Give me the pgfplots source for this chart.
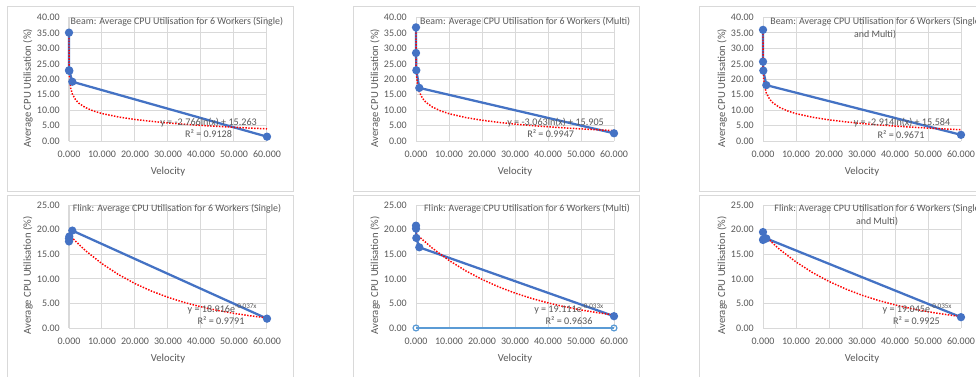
\documentclass[border=0pt]{standalone}
\usepackage{pgfplots}
\pgfplotsset{compat=1.18}
\usepackage{fontspec}
\setmainfont{Carlito}
\definecolor{txt}{HTML}{595959}
\definecolor{gridc}{HTML}{D9D9D9}
\definecolor{blueA}{HTML}{4472C4}
\definecolor{blueB}{HTML}{5B9BD5}
\pgfplotsset{
 excel/.style={scale only axis, width=148.5pt, xmin=0, xmax=60,
  xtick={0,10,20,30,40,50,60},
  xticklabels={0.000,10.000,20.000,30.000,40.000,50.000,60.000},
  grid=major, grid style={draw=gridc, line width=0.75pt},
  axis line style={draw=none}, tick style={draw=none},
  ticklabel style={font=\fontsize{7.5}{9}\selectfont, text=txt, inner sep=0pt},
  xticklabel style={anchor=center, yshift=-9.75pt},
  yticklabel style={anchor=east, xshift=-6.75pt},
  clip=false},
 beam/.style={excel, height=92.625pt, ymin=0, ymax=40, ytick={0,5,10,15,20,25,30,35,40},
  yticklabels={0.00,5.00,10.00,15.00,20.00,25.00,30.00,35.00,40.00}},
 flink/.style={excel, height=92.25pt, ymin=0, ymax=25, ytick={0,5,10,15,20,25},
  yticklabels={0.00,5.00,10.00,15.00,20.00,25.00}},
 data/.style={blueA, line width=1.7pt, mark=*, mark size=2.2pt, mark options={fill=blueA, draw=blueA, solid}},
 trend/.style={red, line width=1.1pt, dash pattern=on 1.1pt off 1.1pt, mark=none},
}
\newcommand{\axlabels}{%
 \node[font=\fontsize{8}{9.6}\selectfont, text=txt] at (axis description cs:0.5,-0.251) {Velocity};
 \node[rotate=90, font=\fontsize{8}{9.6}\selectfont, text=txt] at (axis description cs:-0.207,0.427) {Average CPU Utilisation (\%)};}
\tikzset{ttl/.style={font=\fontsize{7.45}{9.75}\selectfont, text=txt, align=center, inner sep=0pt},
 eq/.style={font=\fontsize{7.6}{9}\selectfont, text=txt, inner sep=0pt}}
\begin{document}
\begin{tikzpicture}
\fill[white] (0,0) rectangle (732pt,282pt);
\draw[gridc, line width=0.75pt] (5.25pt,138.375pt) rectangle (219.75pt,276.75pt);
\draw[gridc, line width=0.75pt] (264.75pt,138.375pt) rectangle (479.25pt,276.75pt);
\draw[gridc, line width=0.75pt] (524.25pt,138.375pt) rectangle (742.5pt,276.75pt);
\draw[gridc, line width=0.75pt] (5.25pt,-10pt) rectangle (219.75pt,135.75pt);
\draw[gridc, line width=0.75pt] (264.75pt,-10pt) rectangle (479.25pt,135.75pt);
\draw[gridc, line width=0.75pt] (524.25pt,-10pt) rectangle (742.5pt,135.75pt);

% Chart 1
\begin{axis}[beam, at={(51.75pt,176.25pt)}, anchor=south west]
\addplot[data] coordinates {(0.001,35.1) (0.01,22.9) (0.1,22.7) (1,19.2) (60,1.4)};
\addplot[trend] coordinates {(0.001,34.370) (0.002,32.453) (0.005,29.918) (0.01,28.001) (0.02,26.084) (0.05,23.549) (0.1,21.632) (0.2,19.715) (0.5,17.180) (1,15.263) (2,13.346) (3,12.224) (5,10.811) (7.5,9.690) (10,8.894) (15,7.772) (20,6.977) (25,6.359) (30,5.855) (35,5.429) (40,5.059) (45,4.734) (50,4.442) (55,4.179) (60,3.938)};
\axlabels
\node[ttl] at (axis description cs:0.545,0.964) {Beam: Average CPU Utilisation for 6 Workers (Single)};
\node[eq] at (axis description cs:0.705,0.146) {y = -2.766ln(x) + 15.263};
\node[eq] at (axis description cs:0.705,0.057) {R² = 0.9128};
\end{axis}

% Chart 2
\begin{axis}[beam, at={(312pt,176.25pt)}, anchor=south west]
\addplot[data] coordinates {(0.001,36.8) (0.01,28.5) (0.1,22.9) (1,17.2) (60,2.5)};
\addplot[trend] coordinates {(0.001,37.063) (0.002,34.940) (0.005,32.134) (0.01,30.011) (0.02,27.887) (0.05,25.081) (0.1,22.958) (0.2,20.835) (0.5,18.028) (1,15.905) (2,13.782) (3,12.540) (5,10.975) (7.5,9.733) (10,8.852) (15,7.610) (20,6.729) (25,6.046) (30,5.487) (35,5.015) (40,4.606) (45,4.245) (50,3.923) (55,3.631) (60,3.364)};
\axlabels
\node[ttl] at (axis description cs:0.551,0.964) {Beam: Average CPU Utilisation for 6 Workers (Multi)};
\node[eq] at (axis description cs:0.705,0.146) {y = -3.063ln(x) + 15.905};
\node[eq] at (axis description cs:0.68,0.057) {R² = 0.9947};
\end{axis}

% Chart 3
\begin{axis}[beam, at={(572.25pt,176.25pt)}, anchor=south west]
\addplot[data] coordinates {(0.001,36.0) (0.01,25.7) (0.1,22.8) (1,18.1) (60,2.0)};
\addplot[trend] coordinates {(0.001,35.713) (0.002,33.693) (0.005,31.023) (0.01,29.004) (0.02,26.984) (0.05,24.313) (0.1,22.294) (0.2,20.274) (0.5,17.604) (1,15.584) (2,13.564) (3,12.383) (5,10.894) (7.5,9.713) (10,8.874) (15,7.693) (20,6.855) (25,6.204) (30,5.673) (35,5.224) (40,4.835) (45,4.491) (50,4.184) (55,3.907) (60,3.653)};
\axlabels
\node[ttl] at (axis description cs:0.566,0.911) {Beam: Average CPU Utilisation for 6 Workers (Single\\and Multi)};
\node[eq] at (axis description cs:0.702,0.146) {y = -2.914ln(x) + 15.584};
\node[eq] at (axis description cs:0.697,0.049) {R² = 0.9671};
\end{axis}

% Chart 4
\begin{axis}[flink, at={(51.75pt,36pt)}, anchor=south west]
\addplot[data] coordinates {(0.001,17.6) (0.01,18.2) (0.1,18.6) (1,19.8) (60,1.9)};
\addplot[trend] coordinates {(0,18.916) (5,15.722) (10,13.066) (15,10.860) (20,9.025) (25,7.501) (30,6.234) (35,5.181) (40,4.306) (45,3.579) (50,2.974) (55,2.472) (60,2.055)};
\axlabels
\node[ttl] at (axis description cs:0.545,0.967) {Flink: Average CPU Utilisation for 6 Workers (Single)};
\node[eq] at (axis description cs:0.775,0.154) {y = 18.916e\textsuperscript{-0.037x}};
\node[eq] at (axis description cs:0.768,0.057) {R² = 0.9791};
\end{axis}

% Chart 5
\begin{axis}[flink, at={(312pt,36pt)}, anchor=south west]
\addplot[blueB, line width=0.9pt, mark=o, mark size=2.2pt, mark options={fill=white, draw=blueB, line width=0.9pt}] coordinates {(0,0) (60,0)};
\addplot[data] coordinates {(0.001,20.8) (0.01,20.2) (0.1,18.3) (1,16.4) (60,2.4)};
\addplot[trend] coordinates {(0,19.111) (5,16.204) (10,13.739) (15,11.650) (20,9.878) (25,8.375) (30,7.101) (35,6.021) (40,5.105) (45,4.329) (50,3.670) (55,3.112) (60,2.639)};
\axlabels
\node[ttl] at (axis description cs:0.561,0.967) {Flink: Average CPU Utilisation for 6 Workers (Multi)};
\node[eq] at (axis description cs:0.773,0.154) {y = 19.111e\textsuperscript{-0.033x}};
\node[eq] at (axis description cs:0.773,0.057) {R² = 0.9636};
\end{axis}

% Chart 6
\begin{axis}[flink, at={(572.25pt,36pt)}, anchor=south west]
\addplot[data] coordinates {(0.001,19.5) (0.01,17.9) (0.1,18.0) (1,18.2) (60,2.2)};
\addplot[trend] coordinates {(0,19.045) (5,15.988) (10,13.421) (15,11.267) (20,9.458) (25,7.940) (30,6.664) (35,5.595) (40,4.697) (45,3.943) (50,3.310) (55,2.779) (60,2.333)};
\axlabels
\node[ttl] at (axis description cs:0.576,0.915) {Flink: Average CPU Utilisation for 6 Workers (Single\\and Multi)};
\node[eq] at (axis description cs:0.780,0.154) {y = 19.045e\textsuperscript{-0.035x}};
\node[eq] at (axis description cs:0.775,0.057) {R² = 0.9925};
\end{axis}
\pgfresetboundingbox
\path[use as bounding box] (0,0) rectangle (732pt,282pt);
\end{tikzpicture}
\end{document}
